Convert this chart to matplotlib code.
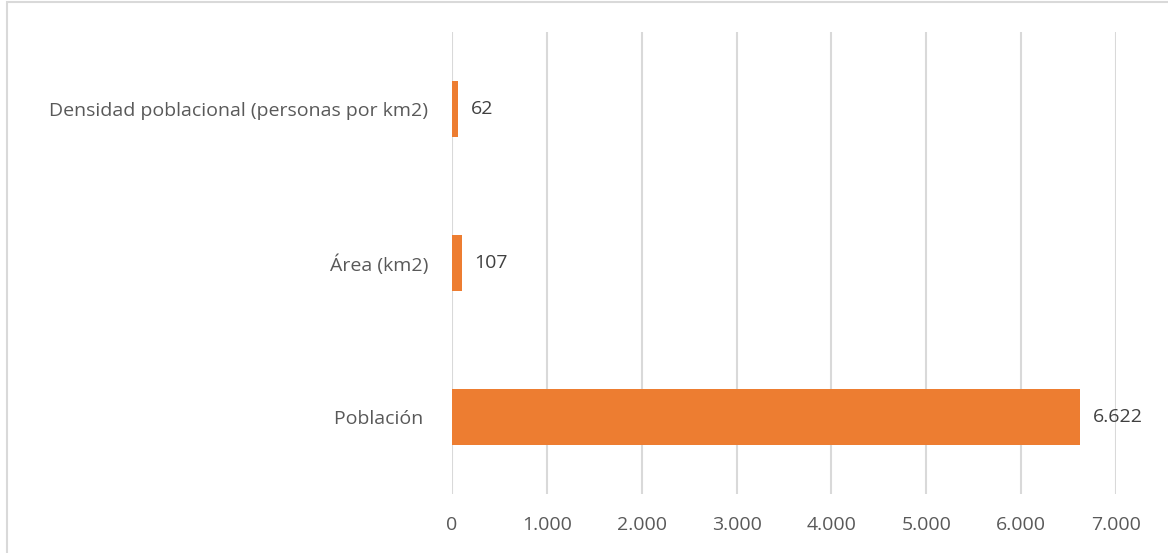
import matplotlib.pyplot as plt
from matplotlib.patches import Rectangle
from matplotlib.ticker import FuncFormatter

categorias = ['Población ', 'Área (km2)', 'Densidad poblacional (personas por km2)']
valores = [6622, 107, 62]
etiquetas = ['6.622', '107', '62']
ticks = [0, 1000, 2000, 3000, 4000, 5000, 6000, 7000]

plt.rcParams['font.family'] = ['Open Sans', 'DejaVu Sans']

fig = plt.figure(figsize=(11.68, 5.53), dpi=100)
ax = fig.add_axes([452 / 1168, 1 - 494 / 553, (1116 - 452) / 1168, (494 - 32) / 553])

# chart frame
fig.patches.append(Rectangle((7 / 1168, -0.1), 1.2, 1 - 2.5 / 553 + 0.1,
                             transform=fig.transFigure, fill=False,
                             edgecolor='#D9D9D9', linewidth=1.5))

y = range(len(categorias))
ax.barh(y, valores, height=0.36, color='#ED7D31', zorder=3)
for i, (v, t) in enumerate(zip(valores, etiquetas)):
    ax.annotate(t, (v, i), xytext=(9, 0), textcoords='offset points',
                va='center', ha='left', fontsize=14, color='#404040')

ax.set_xlim(0, 7000)
ax.set_ylim(-0.5, 2.5)
ax.set_yticks(list(y))
ax.set_yticklabels(categorias, fontsize=14, color='#595959')
ax.set_xticks(ticks)
ax.xaxis.set_major_formatter(FuncFormatter(lambda v, p: f'{int(v):,}'.replace(',', '.')))
ax.tick_params(axis='x', labelsize=14, labelcolor='#595959', length=0, pad=16)
ax.tick_params(axis='y', length=0, pad=17)
ax.grid(axis='x', color='#D9D9D9', linewidth=1.5, zorder=0)
for s in ax.spines.values():
    s.set_visible(False)

fig.savefig('out.png', dpi=100)
